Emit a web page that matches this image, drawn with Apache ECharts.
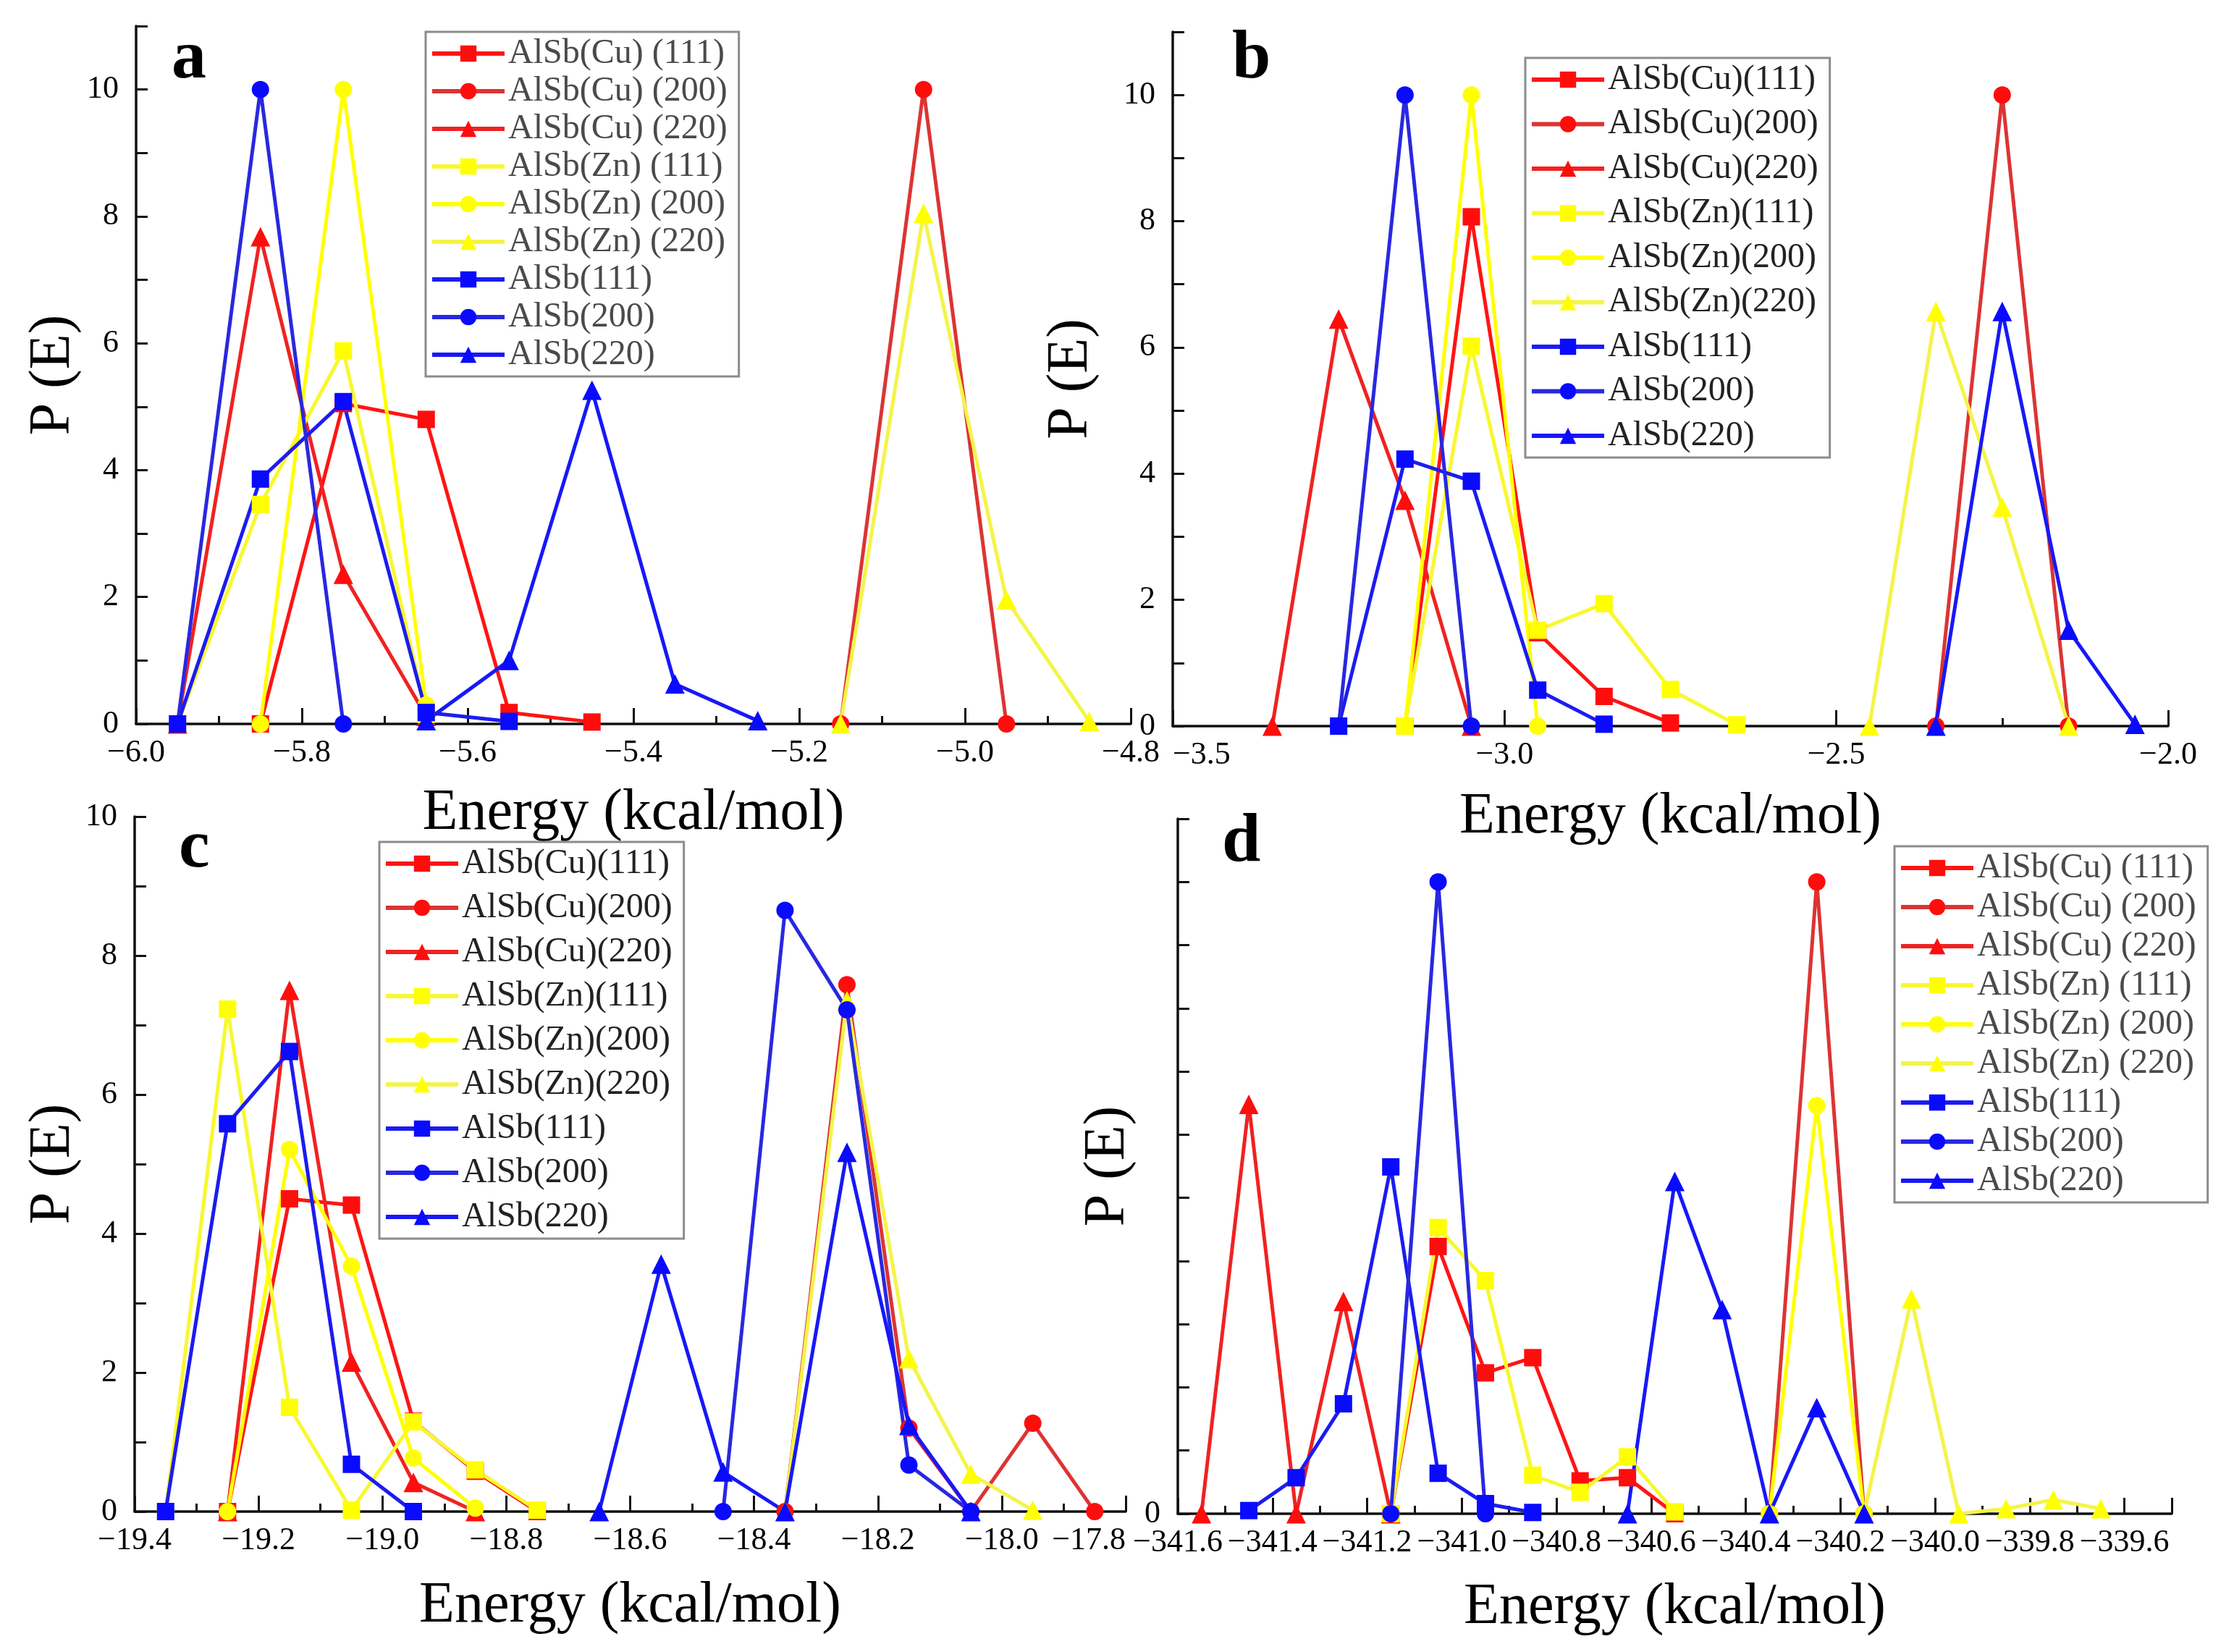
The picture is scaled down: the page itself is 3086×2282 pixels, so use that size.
<!DOCTYPE html>
<html>
<head>
<meta charset="utf-8">
<title>P(E) energy distributions</title>
<script src="https://cdn.jsdelivr.net/npm/echarts@6/dist/echarts.min.js"></script>
<style>
  html, body { margin: 0; padding: 0; background: #fff; }
  #chart { width: 3086px; height: 2282px; }
</style>
</head>
<body>
<div id="chart"></div>
<script>
// panel a
const aCu111 = [[-5.85, 0], [-5.75, 5.05], [-5.65, 4.8], [-5.55, 0.18], [-5.45, 0.03]]
const aCu200 = [[-5.15, 0], [-5.05, 10], [-4.95, 0]]
const aCu220 = [[-5.95, 0], [-5.85, 7.68], [-5.75, 2.36], [-5.65, 0.12]]
const aZn111 = [[-5.95, 0], [-5.85, 3.46], [-5.75, 5.88], [-5.65, 0.15]]
const aZn200 = [[-5.85, 0], [-5.75, 10], [-5.65, 0.3]]
const aZn220 = [[-5.15, 0], [-5.05, 8.05], [-4.95, 1.96], [-4.85, 0.04]]
const aAl111 = [[-5.95, 0], [-5.85, 3.86], [-5.75, 5.08], [-5.65, 0.18], [-5.55, 0.04]]
const aAl200 = [[-5.95, 0], [-5.85, 10], [-5.75, 0]]
const aAl220 = [[-5.65, 0.05], [-5.55, 1.0], [-5.45, 5.26], [-5.35, 0.63], [-5.25, 0.05]]

// panel b
const bCu111 = [[-3.15, 0], [-3.05, 8.07], [-2.95, 1.48], [-2.85, 0.47], [-2.75, 0.05]]
const bCu200 = [[-2.35, 0], [-2.25, 10], [-2.15, 0]]
const bCu220 = [[-3.35, 0], [-3.25, 6.45], [-3.15, 3.58], [-3.05, 0]]
const bZn111 = [[-3.15, 0], [-3.05, 6.02], [-2.95, 1.52], [-2.85, 1.94], [-2.75, 0.58], [-2.65, 0.02]]
const bZn200 = [[-3.15, 0], [-3.05, 10], [-2.95, 0]]
const bZn220 = [[-2.45, 0], [-2.35, 6.57], [-2.25, 3.47], [-2.15, 0]]
const bAl111 = [[-3.25, 0], [-3.15, 4.23], [-3.05, 3.88], [-2.95, 0.57], [-2.85, 0.03]]
const bAl200 = [[-3.25, 0], [-3.15, 10], [-3.05, 0]]
const bAl220 = [[-2.35, 0], [-2.25, 6.57], [-2.15, 1.52], [-2.05, 0.03]]

// panel c
const cCu111 = [[-19.25, 0], [-19.15, 4.5], [-19.05, 4.41], [-18.95, 1.3], [-18.85, 0.58], [-18.75, 0]]
const cCu200 = [[-18.35, 0], [-18.25, 7.58], [-18.15, 1.2], [-18.05, 0], [-17.95, 1.27], [-17.85, 0]]
const cCu220 = [[-19.25, 0], [-19.15, 7.5], [-19.05, 2.15], [-18.95, 0.42], [-18.85, 0]]
const cZn111 = [[-19.35, 0], [-19.25, 7.23], [-19.15, 1.5], [-19.05, 0.02], [-18.95, 1.29], [-18.85, 0.6], [-18.75, 0.02]]
const cZn200 = [[-19.25, 0], [-19.15, 5.21], [-19.05, 3.53], [-18.95, 0.77], [-18.85, 0.05]]
const cZn220 = [[-18.35, 0], [-18.25, 7.35], [-18.15, 2.2], [-18.05, 0.54], [-17.95, 0.02]]
const cAl111 = [[-19.35, 0], [-19.25, 5.58], [-19.15, 6.62], [-19.05, 0.68], [-18.95, 0]]
const cAl200 = [[-18.45, 0], [-18.35, 8.65], [-18.25, 7.22], [-18.15, 0.67], [-18.05, 0]]
const cAl220 = [[-18.65, 0], [-18.55, 3.56], [-18.45, 0.57], [-18.35, 0], [-18.25, 5.17], [-18.15, 1.24], [-18.05, 0]]

// panel d
const dCu111 = [[-341.15, 0], [-341.05, 4.23], [-340.95, 2.23], [-340.85, 2.47], [-340.75, 0.52], [-340.65, 0.57], [-340.55, 0]]
const dCu200 = [[-340.35, 0], [-340.25, 10], [-340.15, 0]]
const dCu220 = [[-341.55, 0], [-341.45, 6.48], [-341.35, 0], [-341.25, 3.36], [-341.15, 0]]
const dZn111 = [[-341.15, 0], [-341.05, 4.53], [-340.95, 3.69], [-340.85, 0.61], [-340.75, 0.34], [-340.65, 0.9], [-340.55, 0.03]]
const dZn200 = [[-340.35, 0], [-340.25, 6.46], [-340.15, 0]]
const dZn220 = [[-340.15, 0], [-340.05, 3.4], [-339.95, 0], [-339.85, 0.08], [-339.75, 0.22], [-339.65, 0.08]]
const dAl111 = [[-341.45, 0.05], [-341.35, 0.57], [-341.25, 1.74], [-341.15, 5.49], [-341.05, 0.64], [-340.95, 0.16], [-340.85, 0.02]]
const dAl200 = [[-341.15, 0], [-341.05, 10], [-340.95, 0]]
const dAl220 = [[-340.65, 0], [-340.55, 5.26], [-340.45, 3.23], [-340.35, 0], [-340.25, 1.68], [-340.15, 0]]

const namesSpaced = ['AlSb(Cu) (111)', 'AlSb(Cu) (200)', 'AlSb(Cu) (220)', 'AlSb(Zn) (111)', 'AlSb(Zn) (200)', 'AlSb(Zn) (220)', 'AlSb(111)', 'AlSb(200)', 'AlSb(220)']
const namesTight = ['AlSb(Cu)(111)', 'AlSb(Cu)(200)', 'AlSb(Cu)(220)', 'AlSb(Zn)(111)', 'AlSb(Zn)(200)', 'AlSb(Zn)(220)', 'AlSb(111)', 'AlSb(200)', 'AlSb(220)']

const xMin = [-6.0, -3.5, -19.4, -341.6]
const xMax = [-4.8, -2.0, -17.8, -339.5]
const xStep = [0.2, 0.5, 0.2, 0.2]
const yMax = [11, 11, 10, 11]
const letters = ['a', 'b', 'c', 'd']

const panels = [
  [aCu111, aCu200, aCu220, aZn111, aZn200, aZn220, aAl111, aAl200, aAl220],
  [bCu111, bCu200, bCu220, bZn111, bZn200, bZn220, bAl111, bAl200, bAl220],
  [cCu111, cCu200, cCu220, cZn111, cZn200, cZn220, cAl111, cAl200, cAl220],
  [dCu111, dCu200, dCu220, dZn111, dZn200, dZn220, dAl111, dAl200, dAl220]
]
const panelNames = [namesSpaced, namesTight, namesTight, namesSpaced]

// line colour, marker colour, marker
const looks = [
  ['#ff1414', '#ff0d0d', 'rect'],
  ['#dc3434', '#ff0d0d', 'circle'],
  ['#f02222', '#ff0d0d', 'triangle'],
  ['#f8f830', '#ffff00', 'rect'],
  ['#ffff00', '#ffff00', 'circle'],
  ['#f4f44a', '#ffff00', 'triangle'],
  ['#1c1cf0', '#0a0aff', 'rect'],
  ['#2828e0', '#0a0aff', 'circle'],
  ['#1818f8', '#0a0aff', 'triangle']
]

const FONT = 'Liberation Serif'
const grids = [
  { left: 188, top: 36, width: 1374, height: 964 },
  { left: 1620, top: 44, width: 1375, height: 959 },
  { left: 186, top: 1128, width: 1369, height: 960 },
  { left: 1627, top: 1131, width: 1373, height: 960 }
]
const yNameGap = [74, 100, 70, 56]
const xNameGap = [84, 86, 91, 90]
const legendPos = [
  { left: 588, top: 44, itemGap: 4, color: '#4a4a4a' },
  { left: 2107, top: 80, itemGap: 13.5, color: '#222' },
  { left: 524, top: 1163, itemGap: 13, color: '#222' },
  { left: 2617, top: 1169, itemGap: 6, color: '#4a4a4a' }
]
const letterPos = [[263, 86], [1728, 86], [273, 1176], [1714, 1168]]

const minus = v => String(v).replace('-', '\u2212')

const axisCommon = {
  axisLine: { lineStyle: { color: '#111', width: 3.5 } },
  axisTick: { inside: true, length: 22, lineStyle: { color: '#111', width: 3 } },
  minorTick: { show: true, splitNumber: 2, length: 11, lineStyle: { color: '#111', width: 3 } },
  splitLine: { show: false },
  nameTextStyle: { fontFamily: FONT, fontSize: 80, color: '#000' }
}

const xAxis = grids.map((g, i) => ({
  ...axisCommon,
  type: 'value',
  gridIndex: i,
  min: xMin[i],
  max: xMax[i],
  interval: xStep[i],
  name: 'Energy (kcal/mol)',
  nameLocation: 'middle',
  nameGap: xNameGap[i],
  axisLabel: {
    margin: 18,
    fontFamily: FONT,
    fontSize: 44,
    color: '#000',
    showMaxLabel: i !== 3,
    alignMinLabel: i === 1 ? 'left' : 'center',
    alignMaxLabel: i === 2 ? 'right' : 'center',
    formatter: v => minus(v.toFixed(1))
  }
}))

const yAxis = grids.map((g, i) => ({
  ...axisCommon,
  type: 'value',
  gridIndex: i,
  min: 0,
  max: yMax[i],
  interval: 1,
  minorTick: { show: false },
  axisTick: { inside: true, length: 16, lineStyle: { color: '#111', width: 3 } },
  name: 'P (E)',
  nameLocation: 'middle',
  nameGap: yNameGap[i],
  axisLabel: {
    margin: 24,
    fontFamily: FONT,
    fontSize: 44,
    color: '#000',
    formatter: v => {
      if (i === 3) return v === 0 ? '0' : ''
      return v % 2 === 0 && v <= 10 ? String(v) : ''
    }
  }
}))

const series = []
panels.forEach((list, p) => {
  list.forEach((data, k) => {
    const [lineColor, markColor, symbol] = looks[k]
    series.push({
      type: 'line',
      name: panelNames[p][k],
      xAxisIndex: p,
      yAxisIndex: p,
      data: data,
      symbol: symbol,
      symbolSize: symbol === 'triangle' ? 27 : 24,
      showAllSymbol: true,
      lineStyle: { color: lineColor, width: 5 },
      itemStyle: { color: markColor },
      animation: false
    })
  })
})

const legend = legendPos.map((pos, i) => ({
  left: pos.left,
  top: pos.top,
  orient: 'vertical',
  data: panelNames[i],
  itemWidth: 100,
  itemHeight: 28,
  itemGap: pos.itemGap,
  itemTextGap: 14,
  padding: [6, 16, 6, 6],
  backgroundColor: '#fff',
  borderColor: '#8c8c8c',
  borderWidth: 3,
  selectedMode: false,
  lineStyle: { width: 6 },
  textStyle: { fontFamily: FONT, fontSize: 48, lineHeight: 46, color: pos.color }
}))

const graphic = letters.map((t, i) => ({
  type: 'text',
  left: letterPos[i][0] - 26,
  top: letterPos[i][1] - 52,
  style: { text: t, fontFamily: FONT, fontWeight: 'bold', fontSize: 96, fill: '#000' },
  z: 100
}))

const chart = echarts.init(document.getElementById('chart'))
chart.setOption({
  backgroundColor: '#fff',
  animation: false,
  grid: grids,
  xAxis,
  yAxis,
  legend,
  graphic,
  series
})
</script>
</body>
</html>
